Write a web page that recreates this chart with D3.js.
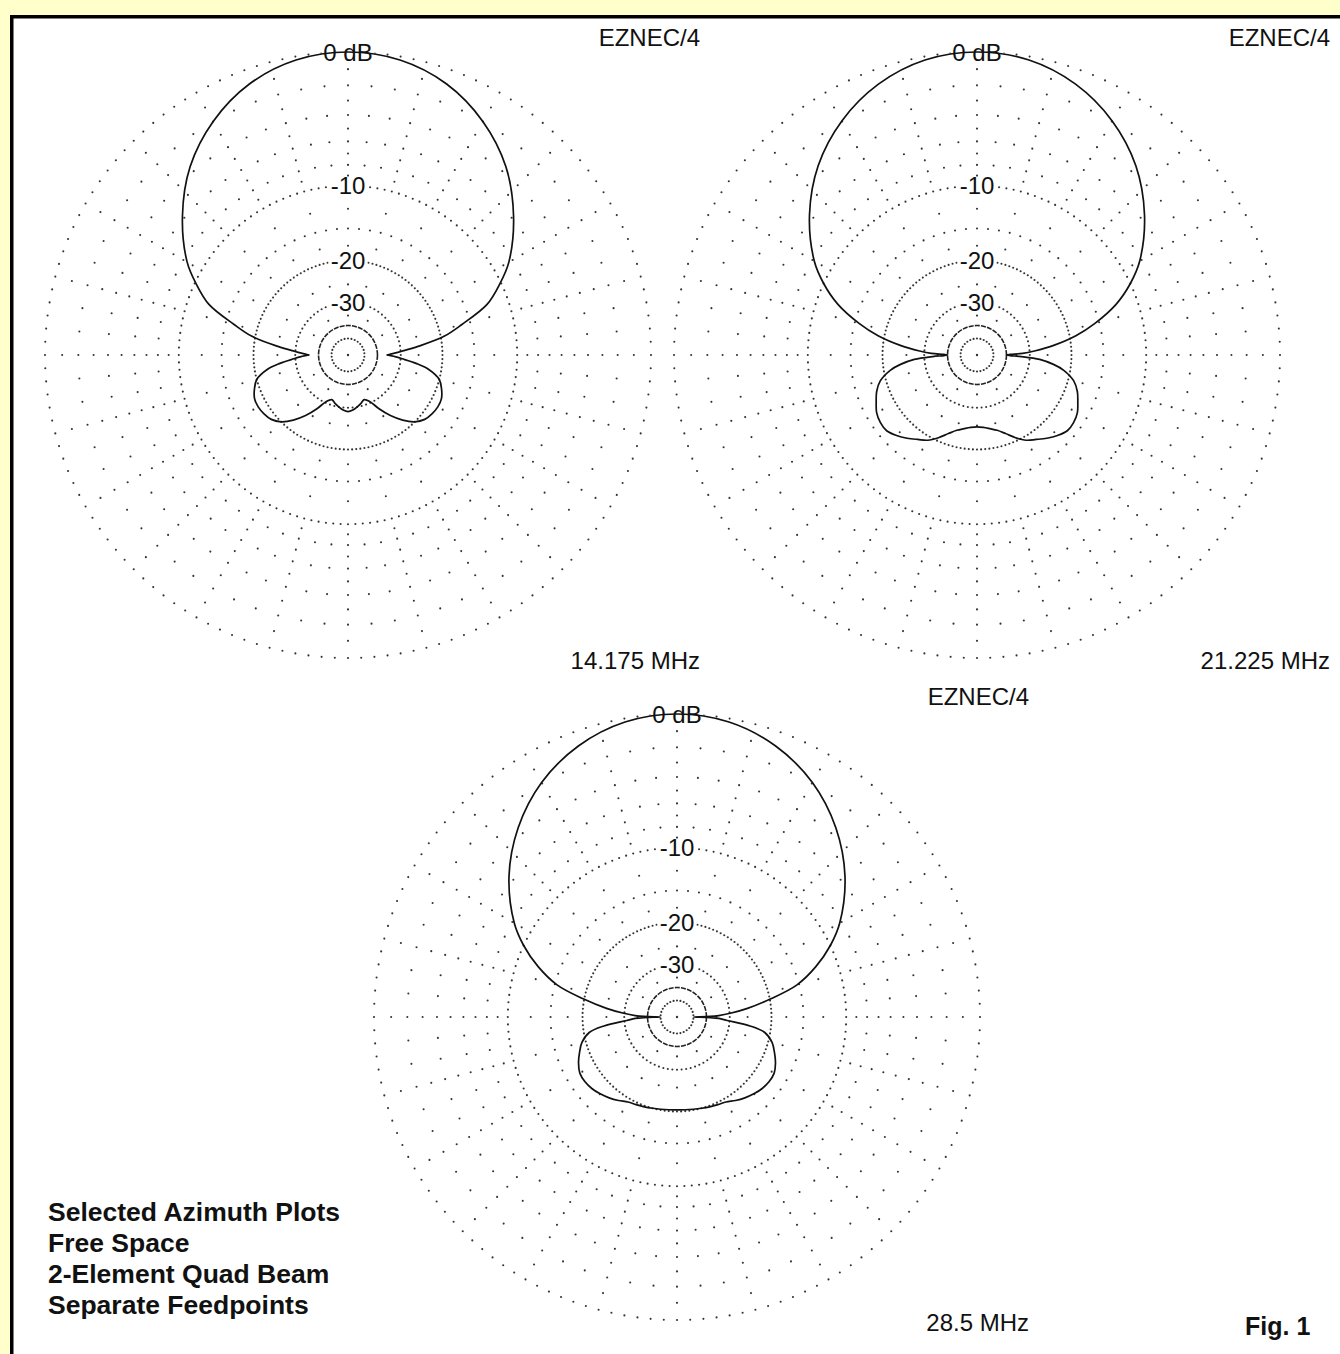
<!DOCTYPE html>
<html>
<head>
<meta charset="utf-8">
<script src="https://cdn.jsdelivr.net/npm/d3@7"></script>
<style>
html, body { margin: 0; padding: 0; background: #ffffcc; }
svg { display: block; }
text { font-family: "Liberation Sans", Arial, sans-serif; fill: #111; }
</style>
</head>
<body>
<svg id="svg" width="1340" height="1354"></svg>
<script>

// azimuth in degrees from the forward direction (pattern is left/right symmetric)
var angles = [0, 10, 20, 30, 40, 50, 60, 65, 70, 75, 79, 83, 86, 88, 89, 90, 91, 92, 94, 97,
    100, 105, 110, 115, 120, 125, 130, 135, 140, 145, 150, 155, 160, 165, 170, 175, 180];

// relative gain, dB
var db14 = [0, -0.2, -0.85, -2.0, -3.6, -5.8, -8.4, -10.2, -12.3, -16.2, -19.4, -25.0, -29.6, -32.5, -34, -35, -33.5, -32, -29.5, -25.5,
    -22.5, -20.0, -19.1, -18.5, -18.4, -18.6, -19.0, -20.0, -21.8, -24.2, -27.2, -30.5, -31.8, -30.9, -30.0, -29.2, -28.8];
var db21 = [0, -0.2, -0.86, -1.96, -3.5, -5.6, -8.2, -10.0, -12.3, -15.6, -18.9, -23.6, -28.5, -32.5, -38, -40, -38, -33, -27, -23.5,
    -21.2, -19.0, -17.9, -17.2, -16.5, -16.2, -16.2, -16.8, -17.6, -18.5, -19.3, -20.6, -22.1, -23.3, -24.0, -24.5, -24.7];
var db28 = [0, -0.2, -0.85, -1.93, -3.5, -5.55, -8.2, -10.0, -12.3, -15.3, -19.8, -24.9, -29.8, -34, -38, -50, -38, -34, -30.8, -24.3,
    -21.0, -19.3, -18.4, -17.6, -17.05, -17.0, -17.2, -17.6, -18.1, -18.7, -19.35, -19.6, -19.8, -20.0, -20.15, -20.25, -20.3];

var freqLabels = ["14.175 MHz", "21.225 MHz", "28.5 MHz"];
var ringLevels = [0, -10, -20, -30];
var ringLabels = ["0 dB", "-10", "-20", "-30"];
var progLabel = "EZNEC/4";
var notes = ["Selected Azimuth Plots", "Free Space", "2-Element Quad Beam", "Separate Feedpoints"];
var figLabel = "Fig. 1";

var svg = d3.select("#svg");

// ARRL log scale: radius shrinks by 0.89 every 2 dB
var R0 = 303;
var logR = d3.scaleLinear().domain([0, -50]).range([Math.log(R0), Math.log(R0) + 25 * Math.log(0.89)]);
var rScale = function (db) { return Math.exp(logR(db)); };

var plots = [
    {cx: 348, cy: 355, db: db14, freq: freqLabels[0], labelX: 700, topY: 46, freqY: 669},
    {cx: 977, cy: 355, db: db21, freq: freqLabels[1], labelX: 1330, topY: 46, freqY: 669},
    {cx: 677, cy: 1017, db: db28, freq: freqLabels[2], labelX: 1029, topY: 705, freqY: 1331}
];

// white plot area with heavy black frame
svg.append("rect")
    .attr("x", 11.75).attr("y", 16.75)
    .attr("width", 1400).attr("height", 1400)
    .attr("fill", "#fff").attr("stroke", "#000").attr("stroke-width", 3.5);

// grid dots as [azimuth, dB]
var gridDots = [];
[{db: 0, step: 2.5}, {db: -10, step: 2.5}, {db: -20, step: 2.5}, {db: -30, step: 5}, {db: -50, step: 12}]
    .forEach(function (ring) {
        for (var a = 0; a < 360; a += ring.step) gridDots.push([a, ring.db]);
    });
for (var a = 0; a < 360; a += 5) {
    var major = a % 15 === 0;
    for (var d = -1; d >= -9; d--) {
        if (major || d % 2 === 0) gridDots.push([a, d]);
    }
    gridDots.push([a, -15]);
    if (major) {
        gridDots.push([a, -12.5]);
        gridDots.push([a, -17.5]);
        gridDots.push([a, -25]);
    }
    if (a % 30 === 0) gridDots.push([a, -35]);
}

var toXY = function (p, a, db) {
    var t = a * Math.PI / 180, r = rScale(db);
    return [p.cx + r * Math.sin(t), p.cy - r * Math.cos(t)];
};

var radial = d3.lineRadial()
    .angle(function (d) { return d[0] * Math.PI / 180; })
    .radius(function (d) { return rScale(d[1]); })
    .curve(d3.curveCatmullRomClosed.alpha(0.5));

plots.forEach(function (p) {
    var g = svg.append("g");

    g.selectAll("circle.dot")
        .data(gridDots)
        .enter().append("circle")
        .attr("class", "dot")
        .attr("cx", function (d) { return toXY(p, d[0], d[1])[0]; })
        .attr("cy", function (d) { return toXY(p, d[0], d[1])[1]; })
        .attr("r", 1.05)
        .attr("fill", "#333");

    g.append("circle").attr("cx", p.cx).attr("cy", p.cy).attr("r", 1.2).attr("fill", "#333");

    g.append("circle")
        .attr("cx", p.cx).attr("cy", p.cy).attr("r", rScale(-40))
        .attr("fill", "none").attr("stroke", "#222").attr("stroke-width", 1.6)
        .attr("stroke-dasharray", "5 1.2");

    // ring labels on a white patch
    ringLevels.forEach(function (lv, i) {
        var y = p.cy - rScale(lv);
        var t = g.append("text")
            .attr("x", p.cx).attr("y", y + 8.5)
            .attr("text-anchor", "middle")
            .attr("font-size", 24)
            .text(ringLabels[i]);
        var bb = t.node().getBBox();
        g.insert("rect", function () { return t.node(); })
            .attr("x", bb.x - 2).attr("y", y - 9)
            .attr("width", bb.width + 4).attr("height", 18)
            .attr("fill", "#fff");
    });

    // pattern, mirrored to the other side
    var half = angles.map(function (a, i) { return [a, p.db[i]]; });
    var other = half.slice(1, -1).reverse().map(function (d) { return [360 - d[0], d[1]]; });
    g.append("path")
        .datum(half.concat(other))
        .attr("transform", "translate(" + p.cx + "," + p.cy + ")")
        .attr("d", radial)
        .attr("fill", "none")
        .attr("stroke", "#111")
        .attr("stroke-width", 1.7);

    g.append("text")
        .attr("x", p.labelX).attr("y", p.topY)
        .attr("text-anchor", "end").attr("font-size", 24)
        .text(progLabel);
    g.append("text")
        .attr("x", p.labelX).attr("y", p.freqY)
        .attr("text-anchor", "end").attr("font-size", 24)
        .text(p.freq);
});

svg.append("g").selectAll("text")
    .data(notes)
    .enter().append("text")
    .attr("x", 48)
    .attr("y", function (d, i) { return 1221 + i * 31; })
    .attr("font-size", 26.5)
    .attr("font-weight", "bold")
    .text(function (d) { return d; });

svg.append("text")
    .attr("x", 1245).attr("y", 1335)
    .attr("font-size", 25).attr("font-weight", "bold")
    .text(figLabel);

</script>
</body>
</html>
